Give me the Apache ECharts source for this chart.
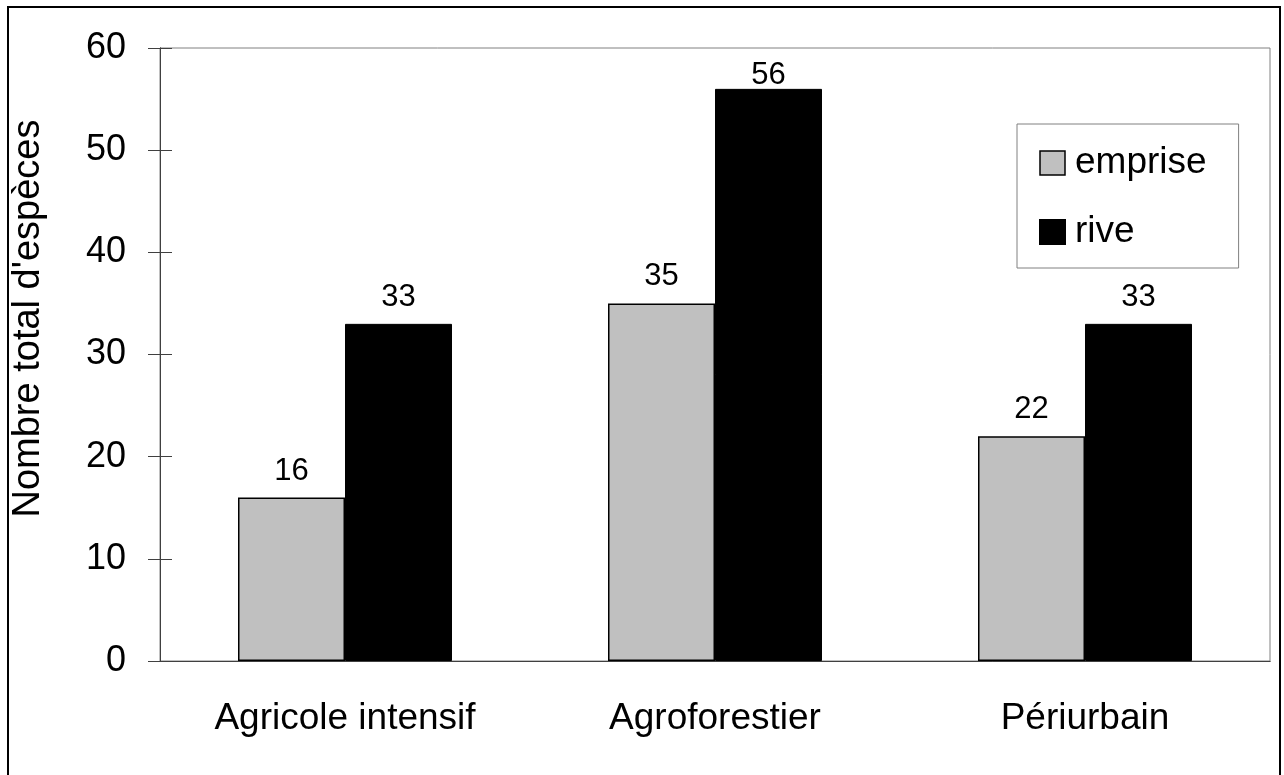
<!DOCTYPE html>
<html>
<head>
<meta charset="utf-8">
<script src="https://cdn.jsdelivr.net/npm/echarts@6/dist/echarts.min.js"></script>
<style>
html, body { margin: 0; padding: 0; background: #fff; }
#main { width: 1284px; height: 775px; }
</style>
</head>
<body>
<div id="main"></div>
<script>
var categories = ['Agricole intensif', 'Agroforestier', 'Périurbain'];
var emprise = [16, 35, 22];
var rive = [33, 56, 33];
var yTicks = [0, 10, 20, 30, 40, 50, 60];

var font = 'Liberation Sans, Arial, sans-serif';
var yMax = yTicks[yTicks.length - 1];

// labels too close to the top of the plot get pulled down, like the original
function withLabels(values) {
    return values.map(function (v) {
        if (yMax - v < 5) {
            return { value: v, label: { distance: -2 } };
        }
        return v;
    });
}

var dom = document.getElementById('main');
var myChart = echarts.init(dom);

var option = {
    backgroundColor: '#fff',
    animation: false,
    textStyle: { fontFamily: font, color: '#000' },
    graphic: [{
        type: 'rect',
        shape: { x: 8, y: 7, width: 1272, height: 800 },
        style: { fill: 'none', stroke: '#000', lineWidth: 2 }
    }],
    grid: {
        left: 160, top: 48, right: 14, bottom: 114,
        show: true, borderColor: '#808080', borderWidth: 1
    },
    legend: {
        orient: 'vertical',
        left: 1017, top: 124,
        padding: [19, 32, 16, 22],
        itemWidth: 25, itemHeight: 24, itemGap: 29,
        borderColor: '#808080', borderWidth: 1,
        backgroundColor: '#fff',
        textStyle: { fontFamily: font, fontSize: 37, color: '#000', lineHeight: 40, padding: [0, 0, 0, 5] },
        data: [
            { name: 'emprise', icon: 'rect', itemStyle: { borderColor: '#000', borderWidth: 1.5 } },
            { name: 'rive', icon: 'rect' }
        ]
    },
    xAxis: [{
        type: 'category',
        data: categories,
        axisLine: { lineStyle: { color: '#404040', width: 1 } },
        axisTick: { length: 12, lineStyle: { color: '#404040' } },
        axisLabel: { fontFamily: font, fontSize: 37, color: '#000', margin: 39 }
    }, {
        type: 'category',
        position: 'bottom',
        data: categories,
        axisLine: { lineStyle: { color: '#404040', width: 1 } },
        axisTick: { inside: true, length: 12, lineStyle: { color: '#404040' } },
        axisLabel: { show: false }
    }],
    yAxis: [{
        type: 'value',
        min: yTicks[0], max: yMax, interval: 10,
        name: "Nombre total d'espèces",
        nameLocation: 'middle',
        nameGap: 112,
        nameTextStyle: { fontFamily: font, fontSize: 38, color: '#000', padding: [0, 0, 0, 72] },
        axisLine: { show: true, lineStyle: { color: '#404040', width: 1 } },
        axisTick: { show: true, length: 12, lineStyle: { color: '#404040' } },
        axisLabel: { fontFamily: font, fontSize: 36, color: '#000', margin: 34 },
        splitLine: { show: false }
    }, {
        type: 'value',
        position: 'left',
        min: yTicks[0], max: yMax, interval: 10,
        axisLine: { show: true, lineStyle: { color: '#404040', width: 1 } },
        axisTick: { show: true, inside: true, length: 12, lineStyle: { color: '#404040' } },
        axisLabel: { show: false },
        splitLine: { show: false }
    }],
    series: [{
        name: 'emprise',
        type: 'bar',
        data: withLabels(emprise),
        barWidth: 107,
        barGap: 0,
        itemStyle: { color: '#C0C0C0', borderColor: '#000', borderWidth: 1.5 },
        label: { show: true, position: 'top', distance: 11, fontFamily: font, fontSize: 31, color: '#000' }
    }, {
        name: 'rive',
        type: 'bar',
        data: withLabels(rive),
        barWidth: 107,
        barGap: 0,
        itemStyle: { color: '#000', borderColor: '#000', borderWidth: 1 },
        label: { show: true, position: 'top', distance: 11, fontFamily: font, fontSize: 31, color: '#000' }
    }]
};

if (option && typeof option === 'object') {
    myChart.setOption(option, true);
}
</script>
</body>
</html>
